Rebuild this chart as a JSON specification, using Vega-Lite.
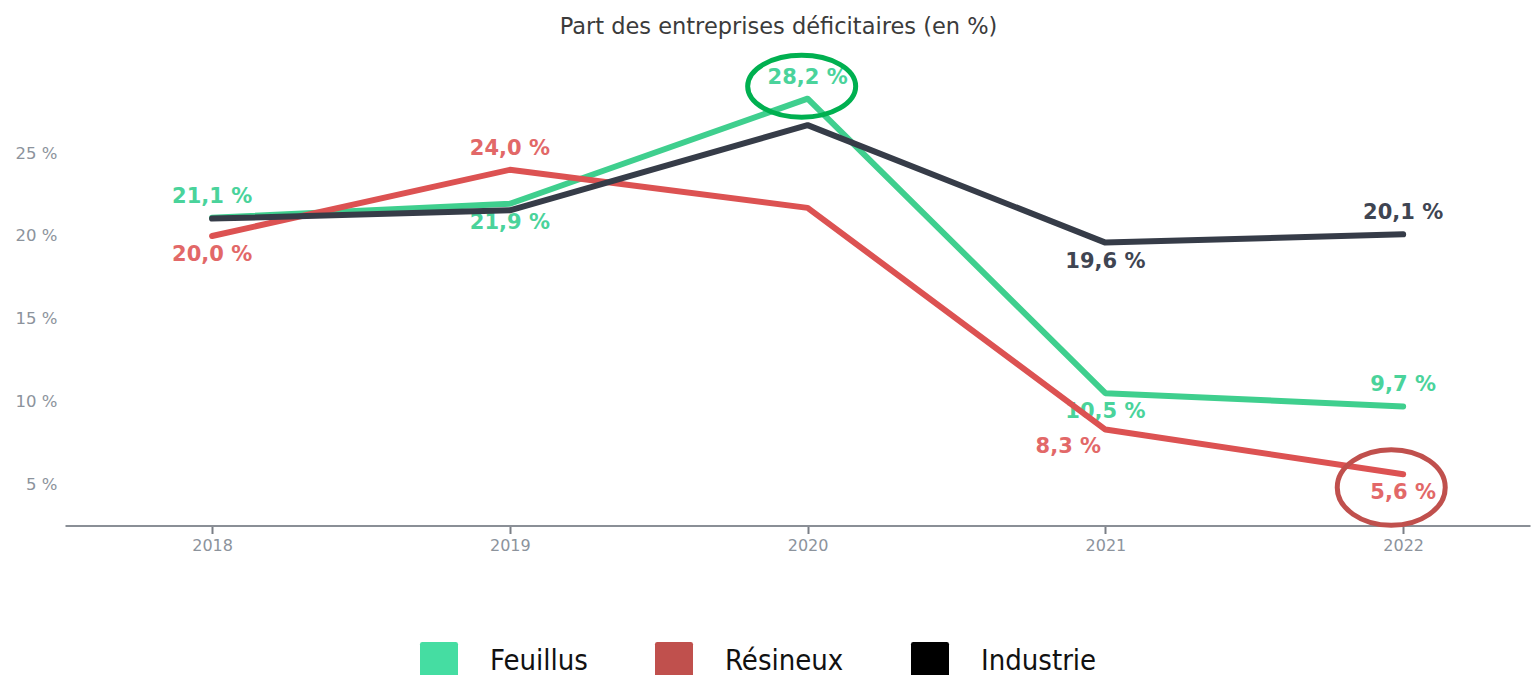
{
  "$schema": "https://vega.github.io/schema/vega-lite/v6.json",
  "width": 1465,
  "height": 471.5,
  "autosize": {"type": "none"},
  "padding": {"left": 65, "top": 54, "right": 2, "bottom": 150},
  "background": "white",
  "title": {
    "text": "Part des entreprises déficitaires (en %)",
    "font": "DejaVu Sans",
    "fontSize": 22.5,
    "fontWeight": "normal",
    "color": "#3b3b3b",
    "anchor": "middle",
    "dx": -19,
    "offset": 7
  },
  "config": {"view": {"stroke": null}},
  "datasets": {
    "series": [
      {"series": "Feuillus", "year": 2018, "value": 21.1, "label": "21,1 %", "pos": "above"},
      {"series": "Feuillus", "year": 2019, "value": 21.95, "label": "21,9 %", "pos": "below"},
      {"series": "Feuillus", "year": 2020, "value": 28.3, "label": "28,2 %", "pos": "above"},
      {"series": "Feuillus", "year": 2021, "value": 10.5, "label": "10,5 %", "pos": "below"},
      {"series": "Feuillus", "year": 2022, "value": 9.7, "label": "9,7 %", "pos": "above"},
      {"series": "Résineux", "year": 2018, "value": 20.0, "label": "20,0 %", "pos": "below"},
      {"series": "Résineux", "year": 2019, "value": 24.0, "label": "24,0 %", "pos": "above"},
      {"series": "Résineux", "year": 2020, "value": 21.7, "label": "", "pos": "none"},
      {"series": "Résineux", "year": 2021, "value": 8.3, "label": "8,3 %", "pos": "belowleft"},
      {"series": "Résineux", "year": 2022, "value": 5.6, "label": "5,6 %", "pos": "below"},
      {"series": "Industrie", "year": 2018, "value": 21.05, "label": "", "pos": "none"},
      {"series": "Industrie", "year": 2019, "value": 21.55, "label": "", "pos": "none"},
      {"series": "Industrie", "year": 2020, "value": 26.7, "label": "", "pos": "none"},
      {"series": "Industrie", "year": 2021, "value": 19.6, "label": "19,6 %", "pos": "below"},
      {"series": "Industrie", "year": 2022, "value": 20.1, "label": "20,1 %", "pos": "above"}
    ],
    "annot": [
      {"kind": "green", "year": 2019.98, "value": 29.05},
      {"kind": "red", "year": 2021.96, "value": 4.8}
    ],
    "legendItems": [
      {"categorie": "Feuillus", "year": 2020, "value": 20},
      {"categorie": "Résineux", "year": 2020, "value": 20},
      {"categorie": "Industrie", "year": 2020, "value": 20}
    ]
  },
  "encoding": {
    "x": {
      "field": "year",
      "type": "quantitative",
      "scale": {"domain": [2017.506, 2022.426], "nice": false, "zero": false},
      "axis": {
        "values": [2018, 2019, 2020, 2021, 2022],
        "format": "d",
        "title": null,
        "grid": false,
        "labelFont": "DejaVu Sans",
        "labelFontSize": 16,
        "labelColor": "#8c939c",
        "tickColor": "#7a7f86",
        "tickSize": 8,
        "tickWidth": 2,
        "domainColor": "#8a8f96",
        "domainWidth": 2,
        "labelPadding": 4
      }
    },
    "y": {
      "field": "value",
      "type": "quantitative",
      "scale": {"domain": [2.5, 31], "nice": false, "zero": false},
      "axis": {
        "values": [5, 10, 15, 20, 25],
        "labelExpr": "datum.value + ' %'",
        "title": null,
        "grid": false,
        "domain": false,
        "ticks": false,
        "tickSize": 0,
        "labelPadding": 8,
        "labelFont": "DejaVu Sans",
        "labelFontSize": 16.5,
        "labelColor": "#8c939c"
      }
    }
  },
  "layer": [
    {
      "data": {"name": "legendItems"},
      "mark": {"type": "square", "size": 0, "opacity": 1},
      "encoding": {
        "fill": {
          "field": "categorie",
          "type": "nominal",
          "sort": null,
          "scale": {"domain": ["Feuillus", "Résineux", "Industrie"], "range": ["#45dda2", "#c0504d", "#000000"]},
          "legend": {
            "orient": "none",
            "legendX": 355,
            "legendY": 588,
            "direction": "horizontal",
            "title": null,
            "padding": 0,
            "symbolType": "M-0.88,-1H0.88Q1,-1 1,-0.88V0.88Q1,1 0.88,1H-0.88Q-1,1 -1,0.88V-0.88Q-1,-1 -0.88,-1Z",
            "symbolSize": 1444,
            "symbolOpacity": 1,
            "symbolStrokeWidth": 0,
            "labelFont": "DejaVu Sans Condensed, sans-serif",
            "labelFontSize": 29,
            "labelColor": "#111111",
            "labelOffset": 32,
            "columnPadding": 67,
            "labelLimit": 400
          }
        }
      }
    },
    {
      "data": {"name": "series"},
      "transform": [{"filter": "datum.pos === 'above'"}],
      "mark": {"type": "text", "font": "DejaVu Sans", "fontSize": 21, "fontWeight": "bold", "dy": -21, "baseline": "middle", "align": "center"},
      "encoding": {
        "text": {"field": "label"},
        "color": {"field": "series", "type": "nominal", "scale": {"domain": ["Feuillus", "Résineux", "Industrie"], "range": ["#4ad39b", "#e26868", "#3f4552"]}, "legend": null}
      }
    },
    {
      "data": {"name": "series"},
      "transform": [{"filter": "datum.pos === 'below'"}],
      "mark": {"type": "text", "font": "DejaVu Sans", "fontSize": 21, "fontWeight": "bold", "dy": 19, "baseline": "middle", "align": "center"},
      "encoding": {
        "text": {"field": "label"},
        "color": {"field": "series", "type": "nominal", "legend": null}
      }
    },
    {
      "data": {"name": "series"},
      "transform": [{"filter": "datum.pos === 'belowleft'"}],
      "mark": {"type": "text", "font": "DejaVu Sans", "fontSize": 21, "fontWeight": "bold", "dy": 17, "dx": -37, "baseline": "middle", "align": "center"},
      "encoding": {
        "text": {"field": "label"},
        "color": {"field": "series", "type": "nominal", "legend": null}
      }
    },
    {
      "data": {"name": "series"},
      "mark": {"type": "line", "strokeWidth": 6, "strokeCap": "round", "strokeJoin": "round"},
      "encoding": {
        "stroke": {"field": "series", "type": "nominal", "sort": null, "scale": {"domain": ["Feuillus", "Résineux", "Industrie"], "range": ["#3fcf8e", "#dc5252", "#363c48"]}, "legend": null}
      }
    },
    {
      "data": {"name": "annot"},
      "transform": [{"filter": "datum.kind === 'green'"}],
      "mark": {
        "type": "point",
        "filled": false,
        "shape": "M-1,0C-1,-0.317 -0.5523,-0.574 0,-0.574C0.5523,-0.574 1,-0.317 1,0C1,0.317 0.5523,0.574 0,0.574C-0.5523,0.574 -1,0.317 -1,0Z",
        "size": 11664,
        "stroke": "#00b050",
        "strokeWidth": 5,
        "opacity": 1
      }
    },
    {
      "data": {"name": "annot"},
      "transform": [{"filter": "datum.kind === 'red'"}],
      "mark": {
        "type": "point",
        "filled": false,
        "shape": "M-1,0C-1,-0.3866 -0.5523,-0.7 0,-0.7C0.5523,-0.7 1,-0.3866 1,0C1,0.3866 0.5523,0.7 0,0.7C-0.5523,0.7 -1,0.3866 -1,0Z",
        "size": 11664,
        "stroke": "#c0504d",
        "strokeWidth": 5,
        "opacity": 1
      }
    }
  ]
}
